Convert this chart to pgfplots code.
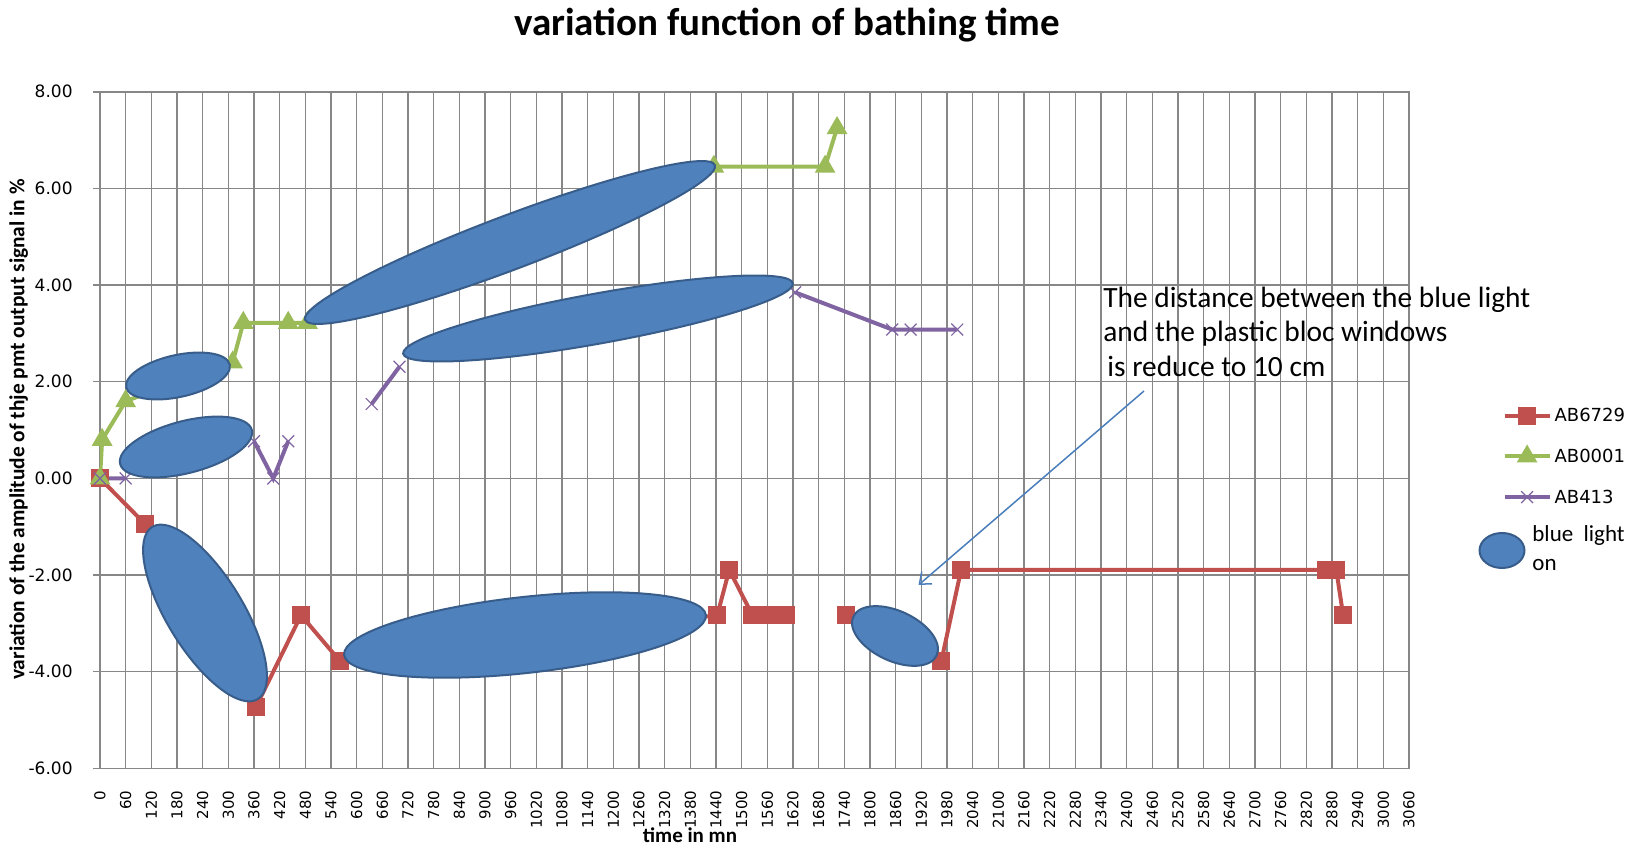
\documentclass[border=0pt]{standalone}
\usepackage{fontspec}
\setmainfont{Carlito}
\newfontfamily\dejavu{DejaVu Sans}
\usepackage{pgfplots}
\pgfplotsset{compat=1.18}
\usetikzlibrary{arrows.meta}
\definecolor{serred}{HTML}{C0504D}
\definecolor{sergreen}{HTML}{9BBB59}
\definecolor{serpurple}{HTML}{8064A2}
\definecolor{ellfill}{HTML}{4F81BD}
\definecolor{elldraw}{HTML}{385D8A}
\definecolor{gridgray}{HTML}{878787}
\definecolor{arrowblue}{HTML}{4A7EBB}
\begin{document}
\begin{tikzpicture}
\useasboundingbox (0,0) rectangle (814.5pt,423.5pt);
\begin{axis}[
  at={(50pt,39.3pt)}, anchor=south west, scale only axis,
  width=654.5pt, height=338.3pt,
  xmin=0, xmax=3060, ymin=-6, ymax=8,
  xtick={0,60,...,3060},
  ytick={-6,-4,-2,0,2,4,6,8},
  yticklabels={-6.00,-4.00,-2.00,0.00,2.00,4.00,6.00,8.00},
  grid=major,
  grid style={gridgray, line width=0.7pt},
  axis line style={gridgray, line width=0.7pt},
  tick align=outside, ytick pos=left, xtick pos=bottom,
  major tick length=3.5pt,
  tick style={gridgray, line width=0.7pt},
  xtick style={draw=none},
  /pgf/number format/assume math mode=true,
  /pgf/number format/1000 sep={},
  xticklabel style={font=\dejavu\fontsize{7.5}{9}\selectfont, yshift=-7.5pt, rotate=90, anchor=east, inner sep=0pt},
  yticklabel style={font=\dejavu\fontsize{8.5}{10}\selectfont, anchor=east, inner sep=0pt, xshift=-10pt},
  unbounded coords=jump,
  legend image code/.code={\draw[mark repeat=2,mark phase=2,#1] plot coordinates {(0pt,0pt) (11.25pt,0pt) (22.5pt,0pt)};},
  legend style={at={(1.0712,0.461)}, anchor=west, draw=none, fill=none, inner sep=0pt,
    font=\dejavu\fontsize{9}{11}\selectfont, row sep=12.3pt, column sep=1pt,
    nodes={inner sep=0.5pt, text height=6.5pt, text depth=0.5pt}},
  legend cell align=left,
]
\addplot[serred, line width=2pt, mark=square*, mark size=3.5pt, mark options={solid}] coordinates {
 (0,0) (105,-0.94) (365,-4.72) (470,-2.83) (560,-3.77) (1443,-2.83) (1471,-1.89)
 (1525,-2.83) (1548,-2.83) (1587,-2.83) (1603,-2.83) (1670,nan) (1743,-2.83)
 (1967,-3.77) (2013,-1.89) (2867,-1.89) (2890,-1.89) (2906,-2.83)};
\addlegendentry{AB6729}
\addplot[sergreen, line width=2pt, mark=triangle*, mark size=4pt, mark options={solid}] coordinates {
 (0,0) (5,0.80) (60,1.60) (310,2.40) (335,3.22) (440,3.22) (485,3.22)
 (1435,6.45) (1695,6.45) (1723,7.25)};
\addlegendentry{AB0001}
\addplot[serpurple, line width=2pt, mark=x, mark size=4.2pt, mark options={solid, line width=0.6pt}] coordinates {
 (0,0) (60,0) (200,nan) (360,0.77) (405,0) (440,0.77) (540,nan) (635,1.54) (700,2.31)
 (1100,nan) (1625,3.85) (1852,3.08) (1895,3.08) (2004,3.08)};
\addlegendentry{AB413}
\end{axis}
\begin{scope}[x=0.5pt, y=-0.5pt, shift={(0pt,423.5pt)}]
\tikzset{ell/.style={fill=ellfill, draw=elldraw, line width=1pt}}
\draw[ell, shift={(178,376)}, rotate=12.4] (0,0) ellipse [x radius=26.5pt, y radius=10.5pt];
\draw[ell, shift={(186,447)}, rotate=14.5] (0,0) ellipse [x radius=34pt, y radius=13pt];
\draw[ell, shift={(205,613)}, rotate=-58.5] (0,0) ellipse [x radius=50.5pt, y radius=19pt];
\draw[ell, shift={(525,635)}, rotate=6.3] (0,0) ellipse [x radius=91pt, y radius=19pt];
\draw[ell, shift={(895,636)}, rotate=-25] (0,0) ellipse [x radius=23pt, y radius=12.5pt];
\draw[ell, shift={(510,242.5)}, rotate=20.7] (0,0) ellipse [x radius=109.5pt, y radius=13.5pt];
\draw[ell, shift={(598,318.5)}, rotate=10.25] (0,0) ellipse [x radius=99pt, y radius=12.5pt];
\draw[ell, shift={(1502,550.5)}] (0,0) ellipse [x radius=11.25pt, y radius=8.75pt];
\draw[arrowblue, line width=0.75pt, -{Straight Barb[length=5pt, width=8pt]}] (1144,391) -- (918.5,585);
\tikzset{ann/.style={anchor=base west, inner sep=0pt, font=\fontsize{14.7}{17.5}\selectfont}}
\node[ann] at (1103,307.3) {The distance between the blue light};
\node[ann] at (1103,342) {and the plastic bloc windows};
\node[ann] at (1107,376.7) {is reduce to 10 cm};
\node[anchor=base, inner sep=0pt, font=\bfseries\fontsize{19.5}{22}\selectfont] at (787,36) {variation function of bathing time};
\node[rotate=90, inner sep=0pt, font=\bfseries\fontsize{10.7}{12}\selectfont] at (18.7,429.6) {variation of the amplitude of thje pmt output signal in \%};
\node[anchor=base, inner sep=0pt, font=\bfseries\fontsize{10.5}{12}\selectfont] at (690,842) {time in mn};
\node[anchor=base west, inner sep=0pt, font=\fontsize{11.5}{14}\selectfont] at (1532,541.4) {blue~~light};
\node[anchor=base west, inner sep=0pt, font=\fontsize{11.5}{14}\selectfont] at (1532,570.4) {on};
\end{scope}
\end{tikzpicture}
\end{document}
